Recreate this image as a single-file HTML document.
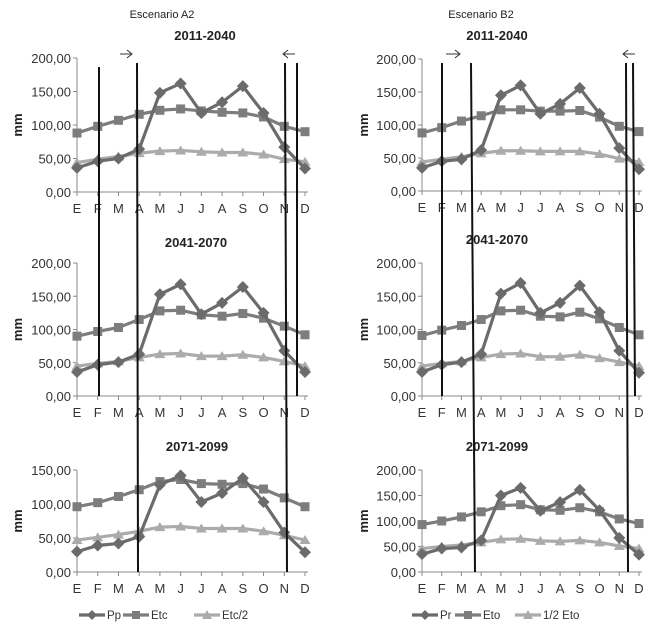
<!DOCTYPE html>
<html><head><meta charset="utf-8"><style>
body{margin:0;background:#fff;}
svg text{font-family:"Liberation Sans",sans-serif;}
</style></head><body>
<svg id="fig" width="654" height="628" viewBox="0 0 654 628" xmlns="http://www.w3.org/2000/svg">
<text x="162" y="18" font-size="11" text-anchor="middle" fill="#222">Escenario A2</text>
<text x="481" y="18" font-size="11" text-anchor="middle" fill="#222">Escenario B2</text>
<g id="charts"></g>
</svg>
<script>
const months = ["E","F","M","A","M","J","J","A","S","O","N","D"];
const ticks200 = [0,50,100,150,200];
const ticks150 = [0,50,100,150];
// Escenario A2
const a2p1Pp  = [36,46,50,64,148,162,118,134,158,118,67,35];
const a2p1Etc = [88,98,107,116,122,124,121,119,118,112,98,90];
const a2p1Half= [44,49,53,58,61,62,60,59,59,56,49,45];
const a2p2Pp  = [36,47,51,63,153,168,123,140,164,125,68,36];
const a2p2Etc = [90,97,103,115,128,129,122,120,124,117,105,92];
const a2p2Half= [45,49,52,58,63,64,60,60,62,58,52,45];
const a2p3Pp  = [30,39,42,52,128,142,103,116,138,103,58,29];
const a2p3Etc = [96,102,111,121,133,136,130,129,130,122,109,96];
const a2p3Half= [47,51,55,60,66,67,64,64,64,60,54,47];
// Escenario B2
const b2p1Pr  = [35,45,48,62,145,160,117,132,156,117,65,33];
const b2p1Eto = [88,96,106,114,123,123,121,121,122,112,98,90];
const b2p1Half= [44,48,52,57,61,61,60,60,60,56,49,44];
const b2p2Pr  = [36,47,51,63,154,170,125,140,166,126,68,35];
const b2p2Eto = [91,99,106,115,128,129,120,119,126,116,103,92];
const b2p2Half= [45,49,52,58,63,64,59,59,62,57,51,45];
const b2p3Pr  = [35,46,48,62,150,165,120,137,161,121,67,34];
const b2p3Eto = [93,100,108,118,130,132,122,121,126,118,104,95];
const b2p3Half= [46,50,53,58,64,65,61,60,62,58,51,46];

const NS="http://www.w3.org/2000/svg";
const root=document.getElementById('charts');
function mk(tag,attrs,parent){const e=document.createElementNS(NS,tag);for(const k in attrs)e.setAttribute(k,attrs[k]);(parent||root).appendChild(e);return e;}
const C1="#6b6b6b",C2="#7d7d7d",C3="#ababab";

const charts=[
 {id:"a2-2011-2040",title:"2011-2040",tx:205,ty:40,x0:77,x1:305,yTop:58,yBot:192,max:200,ticks:ticks200,lab:71,mmx:22,s:[a2p1Pp,a2p1Etc,a2p1Half]},
 {id:"a2-2041-2070",title:"2041-2070",tx:196,ty:247,x0:77,x1:305,yTop:263,yBot:396,max:200,ticks:ticks200,lab:71,mmx:22,s:[a2p2Pp,a2p2Etc,a2p2Half]},
 {id:"a2-2071-2099",title:"2071-2099",tx:197,ty:451,x0:77,x1:305,yTop:470,yBot:572,max:150,ticks:ticks150,lab:71,mmx:22,s:[a2p3Pp,a2p3Etc,a2p3Half]},
 {id:"b2-2011-2040",title:"2011-2040",tx:497,ty:40,x0:422,x1:639,yTop:59,yBot:191,max:200,ticks:ticks200,lab:416,mmx:368,s:[b2p1Pr,b2p1Eto,b2p1Half]},
 {id:"b2-2041-2070",title:"2041-2070",tx:497,ty:244,x0:422,x1:639,yTop:263,yBot:396,max:200,ticks:ticks200,lab:416,mmx:368,s:[b2p2Pr,b2p2Eto,b2p2Half]},
 {id:"b2-2071-2099",title:"2071-2099",tx:497,ty:451,x0:422,x1:639,yTop:470,yBot:572,max:200,ticks:ticks200,lab:416,mmx:368,s:[b2p3Pr,b2p3Eto,b2p3Half]}
];

charts.forEach(c=>{
 const g=mk('g',{});
 
 
 const xs=i=>c.x0+(c.x1-c.x0)*i/11;
 const ys=v=>c.yBot-(c.yBot-c.yTop)*v/c.max;
 const t=mk('text',{x:c.tx,y:c.ty,'font-size':13,'font-weight':'bold','text-anchor':'middle',fill:'#222'},g);t.textContent=c.title;
 
 
 const ax=mk('line',{x1:c.x0,y1:c.yTop,x2:c.x0,y2:c.yBot,stroke:'#888','stroke-width':1},g);
 
 
 const bx=mk('line',{x1:c.x0,y1:c.yBot,x2:c.x1+3,y2:c.yBot,stroke:'#888','stroke-width':1},g);
 
 
 c.ticks.forEach(v=>{
  mk('line',{x1:c.x0-4,y1:ys(v),x2:c.x0,y2:ys(v),stroke:'#888'},g);
  const tl=mk('text',{x:c.lab,y:ys(v)+5,'font-size':13,'text-anchor':'end',fill:'#333'},g);
  tl.textContent=v.toFixed(2).replace('.',',');
  
  
 });
 months.forEach((m,i)=>{
  mk('line',{x1:xs(i),y1:c.yBot,x2:xs(i),y2:c.yBot+4,stroke:'#888'},g);
  const ml=mk('text',{x:xs(i),y:c.yBot+21,'font-size':13,'text-anchor':'middle',fill:'#333'},g);
  ml.textContent=m;
  
  
 });
 const mm=mk('text',{x:c.mmx,y:(c.yTop+c.yBot)/2,'font-size':13,'font-weight':'bold','text-anchor':'middle',fill:'#222',transform:`rotate(-90 ${c.mmx} ${(c.yTop+c.yBot)/2})`},g);
 mm.textContent='mm';
 
 
 const cols=[C1,C2,C3],names=['precip','eto','half-eto'];
 [1,2,0].forEach(k=>{
  const arr=c.s[k];
  const pl=mk('polyline',{points:arr.map((v,i)=>xs(i)+','+ys(v)).join(' '),fill:'none',stroke:cols[k],'stroke-width':3.2},g);
  
  
  arr.forEach((v,i)=>{
   const x=xs(i),y=ys(v);let p;
   if(k===0)p=mk('polygon',{points:`${x},${y-6} ${x+6},${y} ${x},${y+6} ${x-6},${y}`,fill:cols[k]},g);
   else if(k===1)p=mk('rect',{x:x-4.5,y:y-4.5,width:9,height:9,fill:cols[k]},g);
   else p=mk('polygon',{points:`${x},${y-5} ${x+5.5},${y+4} ${x-5.5},${y+4}`,fill:cols[k]},g);
   
   
  });
 });
});

// vertical period lines
const vlines=[[99,67,99,396],[137,63,138,572],[285,63,287,572],[297,63,297,396],
 [442,63,442,396],[471,63,475,572],[626,63,628,572],[633,63,635,396]];
vlines.forEach(v=>{
 const l=mk('line',{x1:v[0],y1:v[1],x2:v[2],y2:v[3],stroke:'#111','stroke-width':2});
 
 
});
// arrows
[[120,132,1],[283,295,-1],[446,460,1],[623,635,-1]].forEach(a=>{
 const y=54;const g=mk('g',{stroke:'#333','stroke-width':1,fill:'none'});
 
 
 mk('line',{x1:a[0],y1:y,x2:a[1],y2:y},g);
 const tip=a[2]>0?a[1]:a[0],d=a[2]>0?-5:5;
 mk('polyline',{points:`${tip+d},${y-4} ${tip},${y} ${tip+d},${y+4}`},g);
});
// legends
function legend(x,labels,name,offs){
 const g=mk('g',{});
 
 
 const y=615,cols=[C1,C2,C3];
 labels.forEach((lb,k)=>{
  const lx=x+offs[k];
  const e=mk('g',{},g);
  
  
  mk('line',{x1:lx,y1:y,x2:lx+26,y2:y,stroke:cols[k],'stroke-width':3.2},e);
  const m=lx+13;
  if(k===0)mk('polygon',{points:`${m},${y-5} ${m+5},${y} ${m},${y+5} ${m-5},${y}`,fill:cols[k]},e);
  else if(k===1)mk('rect',{x:m-4,y:y-4,width:8,height:8,fill:cols[k]},e);
  else mk('polygon',{points:`${m},${y-5} ${m+5},${y+4} ${m-5},${y+4}`,fill:cols[k]},e);
  const t=mk('text',{x:lx+28,y:y+4,'font-size':11.5,fill:'#333'},e);t.textContent=lb;
 });
}
legend(79,["Pp","Etc","Etc/2"],"legend-a2",[0,44,115]);
legend(412,["Pr","Eto","1/2 Eto"],"legend-b2",[0,43,103]);
</script>
</body></html>
